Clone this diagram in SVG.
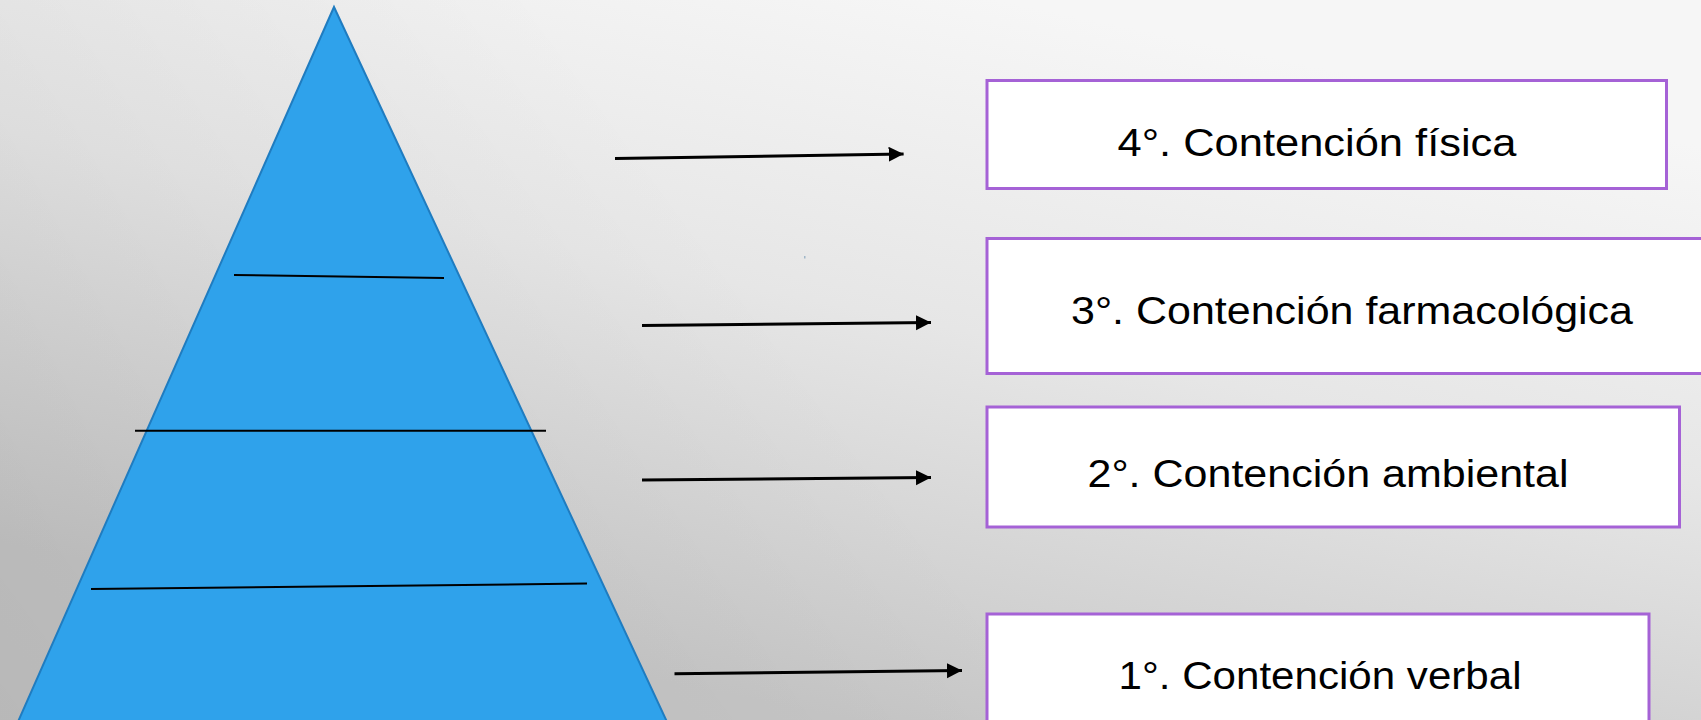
<svg xmlns="http://www.w3.org/2000/svg" width="1701" height="720" viewBox="0 0 1701 720">
  <defs>
    <linearGradient id="bg" gradientUnits="userSpaceOnUse" x1="1000" y1="0" x2="850" y2="720">
      <stop offset="0" stop-color="#f6f6f6"/>
      <stop offset="0.45" stop-color="#e6e6e6"/>
      <stop offset="1" stop-color="#c6c6c6"/>
    </linearGradient>
    <linearGradient id="shade" gradientUnits="userSpaceOnUse" x1="0" y1="720" x2="700" y2="200">
      <stop offset="0" stop-color="#000" stop-opacity="0.07"/>
      <stop offset="1" stop-color="#000" stop-opacity="0"/>
    </linearGradient>
    <marker id="arrow" markerUnits="userSpaceOnUse" markerWidth="17" markerHeight="16" refX="15" refY="7.5" orient="auto">
      <path d="M0,0 L15,7.5 L0,15 Z" fill="#000"/>
    </marker>
    <style>
      .box { fill: #ffffff; stroke: #a562d6; stroke-width: 3; }
      .lbl { font-family: "Liberation Sans", Arial, sans-serif; font-size: 38px; fill: #000; text-anchor: middle; }
      .conn { stroke: #000; stroke-width: 3; fill: none; marker-end: url(#arrow); }
      .tier { stroke: #000; stroke-width: 2; fill: none; }
    </style>
  </defs>

  <rect x="0" y="0" width="1701" height="720" fill="url(#bg)"/>
  <rect x="0" y="0" width="1701" height="720" fill="url(#shade)"/>

  <g id="pyramid">
    <polygon points="334,7 17,724 668,724" fill="#2fa2eb" stroke="#1f7cc0" stroke-width="2"/>
    <line class="tier" x1="234" y1="275" x2="444" y2="278"/>
    <line class="tier" x1="135" y1="430.7" x2="546" y2="430.7"/>
    <line class="tier" x1="91" y1="589" x2="587" y2="583.6"/>
  </g>

  <rect x="804" y="256" width="1.5" height="2.5" fill="#9fb6c8"/>

  <g id="connectors">
    <line class="conn" x1="615" y1="158.4" x2="903.6" y2="154"/>
    <line class="conn" x1="642" y1="325.5" x2="931" y2="322.5"/>
    <line class="conn" x1="642" y1="480" x2="931" y2="477.5"/>
    <line class="conn" x1="674.5" y1="673.8" x2="962" y2="670.5"/>
  </g>

  <g id="node4">
    <rect class="box" x="987" y="80.5" width="679.5" height="108"/>
    <text class="lbl" x="1317" y="156" textLength="399" lengthAdjust="spacingAndGlyphs">4°. Contención física</text>
  </g>
  <g id="node3">
    <rect class="box" x="987" y="238.5" width="760" height="135"/>
    <text class="lbl" x="1352" y="324" textLength="562" lengthAdjust="spacingAndGlyphs">3°. Contención farmacológica</text>
  </g>
  <g id="node2">
    <rect class="box" x="987" y="407" width="692.5" height="120"/>
    <text class="lbl" x="1328" y="487" textLength="481" lengthAdjust="spacingAndGlyphs">2°. Contención ambiental</text>
  </g>
  <g id="node1">
    <rect class="box" x="987" y="614" width="662" height="130"/>
    <text class="lbl" x="1320" y="689" textLength="403" lengthAdjust="spacingAndGlyphs">1°. Contención verbal</text>
  </g>
</svg>
